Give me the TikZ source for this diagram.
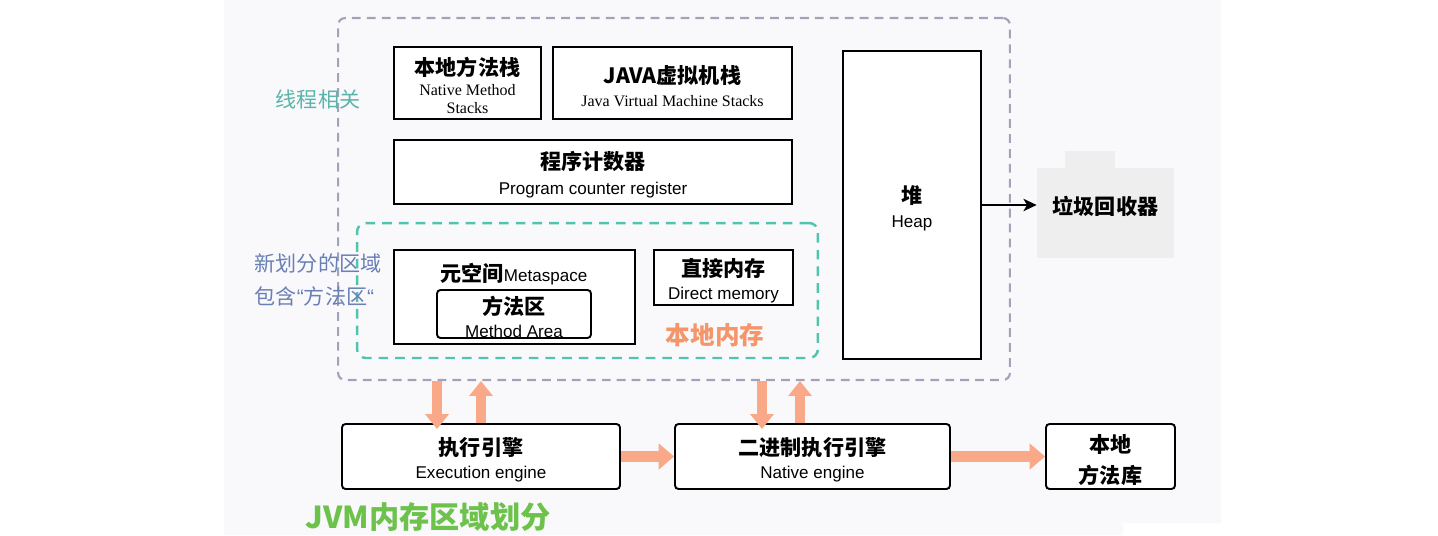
\documentclass[tikz,border=0pt]{standalone}
\usepackage{fontspec}
\usetikzlibrary{arrows.meta}
\newfontfamily\cjk{Noto Sans CJK SC}
\newfontfamily\lsans{Liberation Sans}
\newfontfamily\lserif{Liberation Serif}

\definecolor{panel}{HTML}{F9F9FC}
\definecolor{threadc}{HTML}{A3A2BA}
\definecolor{localc}{HTML}{52C3AF}
\definecolor{tealtxt}{HTML}{5AB4A9}
\definecolor{bluetxt}{HTML}{6A80B4}
\definecolor{orangetxt}{HTML}{F5956A}
\definecolor{flowc}{HTML}{F9A988}
\definecolor{greentxt}{HTML}{6CC24B}
\definecolor{gcgray}{HTML}{EEEEEE}

% box titles carry a strut so the two lines sit a little lower
\newcommand{\zhtitle}[1]{{\cjk\bfseries\fontsize{12}{14}\selectfont\rule{0pt}{13.6pt}#1}}
\newcommand{\zhplain}[1]{{\cjk\bfseries\fontsize{12}{14}\selectfont #1}}
\newcommand{\ensans}[1]{{\lsans\fontsize{9.7}{11}\selectfont #1}}
\newcommand{\enserif}[1]{{\lserif\fontsize{9.1}{10.4}\selectfont #1}}

\tikzset{
  box/.style={draw, line width=1.1pt, fill=white, inner sep=0pt, align=center,
    font=\fontsize{9.7}{10.4}\selectfont},
  vflow/.style={draw=flowc, line width=5.7pt, -{Triangle[length=8.5pt,width=13pt]}},
  hflow/.style={draw=flowc, line width=6.8pt, -{Triangle[length=8.8pt,width=14.5pt]}},
}

\begin{document}
\begin{tikzpicture}[x=0.02cm, y=-0.02cm]
      \useasboundingbox (0,0) rectangle (1438,535);
      \fill[panel] (224,0) -- (1221,0) -- (1221,523) -- (1123,523) -- (1123,535) -- (224,535) -- cycle;

      % regions
      \node[draw=threadc, line width=1.2pt, dash pattern=on 5pt off 3.5pt, rounded corners=4pt,
        minimum width=13.44cm, minimum height=7.24cm] (thread) at (674,199) {};
      \node[draw=localc, line width=1.4pt, dash pattern=on 5.5pt off 4pt, rounded corners=5pt,
        minimum width=9.22cm, minimum height=2.7cm] (local) at (587.5,290.5) {};
      \node[text=tealtxt, font=\cjk\fontsize{12}{14}\selectfont] (threadlbl) at (318,99) {线程相关};
      \node[text=bluetxt, align=left, font=\cjk\fontsize{12}{19.3}\selectfont] (metalbl) at (318,280)
        {新划分的区域\\包含{\lsans“}方法区{\lsans“}};
      \node[text=orangetxt, font=\cjk\bfseries\fontsize{14}{16}\selectfont] (locallbl) at (715,335) {本地内存};

      % thread areas
      \node[box, minimum width=2.94cm, minimum height=1.44cm] (nms) at (467.5,83)
        {\zhtitle{本地方法栈}\\[0.8pt]\enserif{Native Method}\\\enserif{Stacks}};
      \node[box, minimum width=4.78cm, minimum height=1.44cm] (jvms) at (672.5,83)
        {\zhtitle{JAVA虚拟机栈}\\[2.5pt]\enserif{Java Virtual Machine Stacks}};
      \node[box, minimum width=7.96cm, minimum height=1.28cm] (pc) at (593,172)
        {\zhtitle{程序计数器}\\[3.6pt]\ensans{Program counter register}};
      \node[box, minimum width=2.76cm, minimum height=6.16cm] (heap) at (912,205)
        {\zhtitle{堆}\\[3.2pt]\ensans{Heap}};

      % local memory
      \node[box, minimum width=4.82cm, minimum height=1.88cm] (meta) at (514.5,297) {};
      \node (metatxt) at (514,274) {\zhplain{元空间}\ensans{Metaspace}};
      \node[box, rounded corners=2pt, minimum width=3.08cm, minimum height=0.96cm] (area) at (514,314)
        {\zhtitle{方法区}\\[2.5pt]\ensans{Method Area}};
      \node[box, minimum width=2.78cm, minimum height=1.1cm] (direct) at (723.5,277.5)
        {\zhtitle{直接内存}\\[2.7pt]\ensans{Direct memory}};

      % gc
      \fill[gcgray] (1065,151) rectangle (1115,169);
      \node[fill=gcgray, inner sep=0pt, minimum width=2.74cm, minimum height=1.8cm, text depth=9pt,
        font=\cjk\bfseries\fontsize{12}{14}\selectfont] (gc) at (1105.5,213) {垃圾回收器};
      \draw[line width=1.2pt, -{Stealth[length=7.5pt,width=7pt,inset=2pt]}] (heap.east) -- (heap.east -| gc.west);

      % engines
      \node[box, rounded corners=2pt, minimum width=5.56cm, minimum height=1.3cm] (exec) at (481,456.5)
        {\zhtitle{执行引擎}\\[2.8pt]\ensans{Execution engine}};
      \node[box, rounded corners=2pt, minimum width=5.5cm, minimum height=1.3cm] (native) at (812.5,456.5)
        {\zhtitle{二进制执行引擎}\\[2.8pt]\ensans{Native engine}};
      \node[box, rounded corners=2pt, minimum width=2.58cm, minimum height=1.3cm,
        font=\cjk\bfseries\fontsize{12}{17.6}\selectfont] (lib) at (1110.5,456.5) {\rule{0pt}{14.5pt}本地\\方法库};

      \draw[vflow] ([xshift=-0.88cm]exec.north |- thread.south) -- ([xshift=-0.88cm,yshift=-0.12cm]exec.north);
      \draw[vflow] (exec.north) -- (exec.north |- thread.south);
      \draw[vflow] ([xshift=-1.01cm]native.north |- thread.south) -- ([xshift=-1.01cm,yshift=-0.12cm]native.north);
      \draw[vflow] ([xshift=-0.25cm]native.north) -- ([xshift=-0.25cm]native.north |- thread.south);
      \draw[hflow] (exec.east) -- (native.west);
      \draw[hflow] (native.east) -- (lib.west);

      \node[text=greentxt, font=\cjk\bfseries\fontsize{17.2}{19}\selectfont] (title) at (428,517) {JVM内存区域划分};
\end{tikzpicture}
\end{document}
